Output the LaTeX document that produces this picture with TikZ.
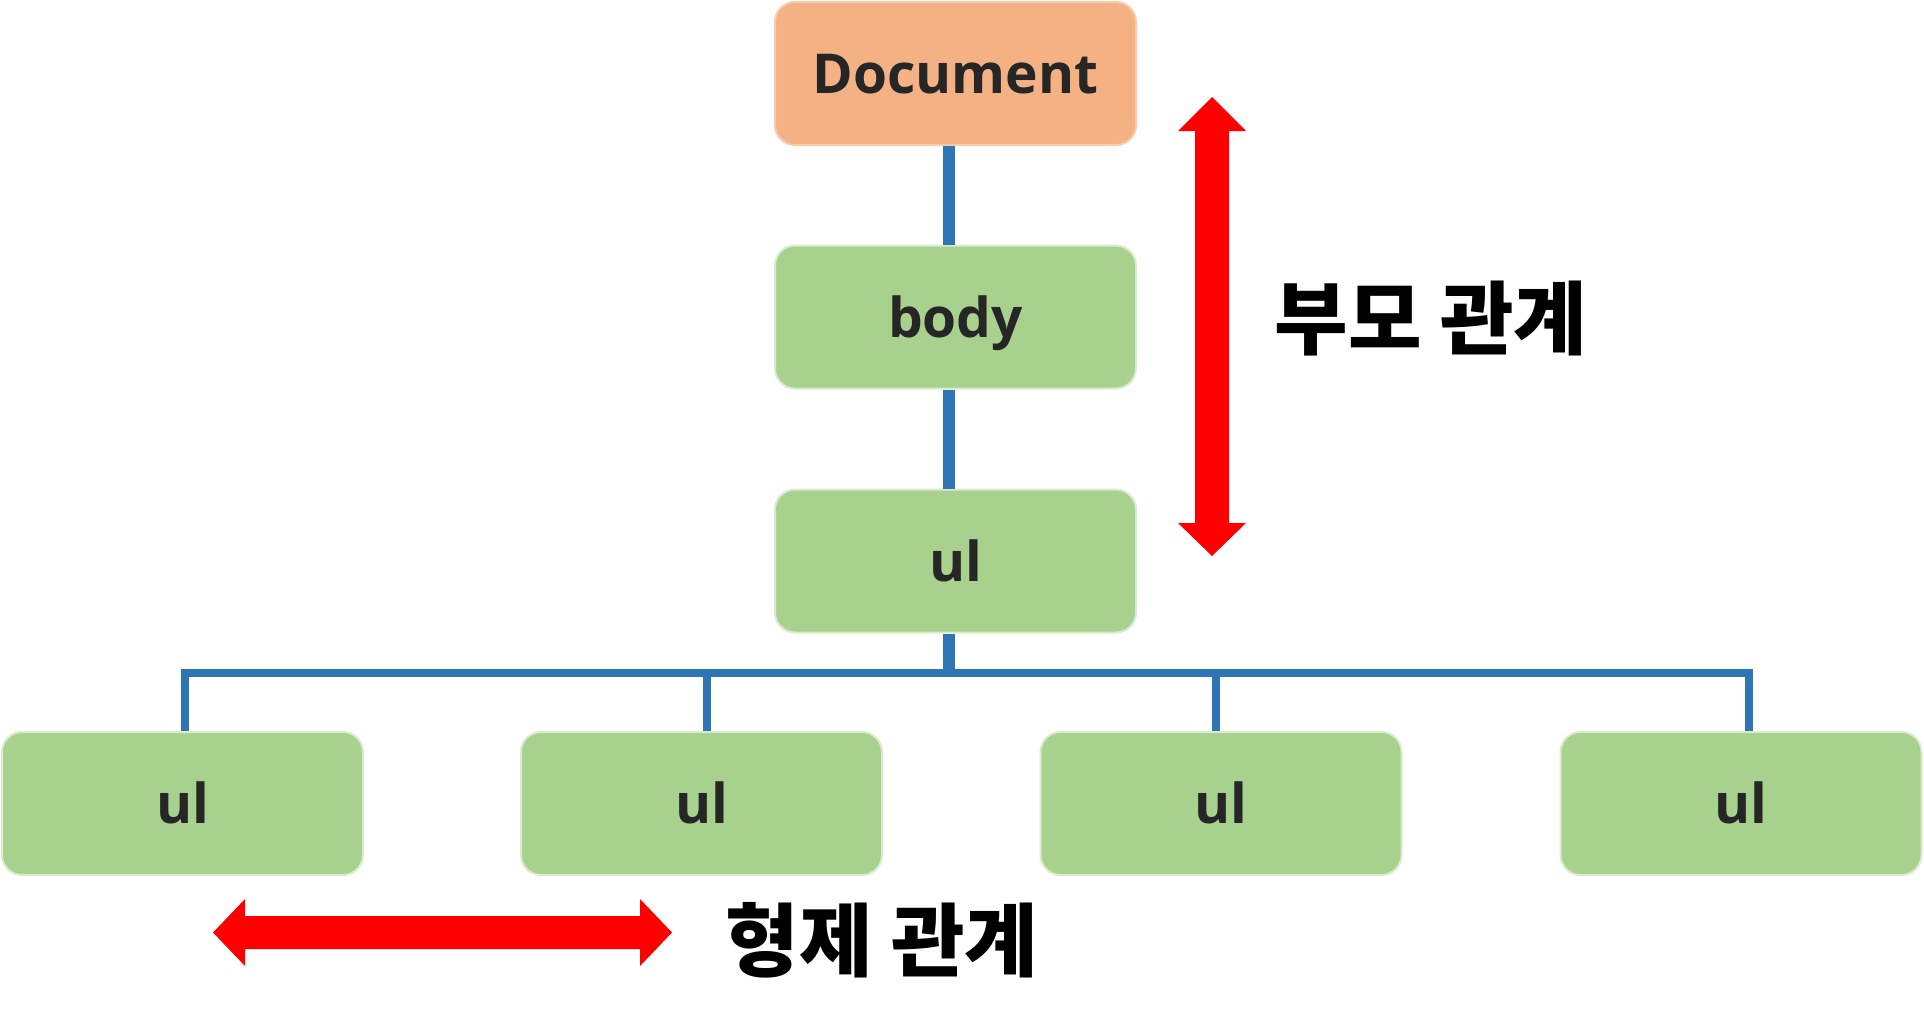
\documentclass[tikz,border=0pt]{standalone}
\usepackage{fontspec}
\setmainfont{Open Sans}
\newfontfamily\krfont{Noto Sans CJK KR}
\definecolor{docfill}{HTML}{F4B183}
\definecolor{docline}{HTML}{F8CBAD}
\definecolor{elfill}{HTML}{A9D18E}
\definecolor{elline}{HTML}{D9EBCD}
\definecolor{treeblue}{HTML}{2E75B6}
\definecolor{boxtext}{HTML}{262626}
\begin{document}
\begin{tikzpicture}[x=1pt,y=-1pt,
  elbox/.style={rounded corners=20pt,fill=elfill,draw=elline,line width=2pt,minimum width=361pt,minimum height=143pt,
    text=boxtext,font=\fontsize{55}{60}\selectfont\bfseries,text height=40pt,text depth=0pt},
  link/.style={treeblue,line width=12pt},
  relation/.style={font=\krfont\fontsize{80}{82}\selectfont\bfseries,text height=66pt,text depth=5pt}]
\useasboundingbox (0,0) rectangle (1924,1031);
\node[elbox,fill=docfill,draw=docline] (doc) at (955.5,73.5) {Document};
\node[elbox] (body) at (955.5,317) {body};
\node[elbox] (ul) at (955.5,561) {ul};
\foreach \n/\x in {1/182.5,2/701.5,3/1221,4/1741}{\node[elbox] (ul\n) at (\x,803.5) {ul};}
\draw[link] ([xshift=-6.5pt]doc.south) -- ([xshift=-6.5pt]body.north);
\draw[link] ([xshift=-6.5pt]body.south) -- ([xshift=-6.5pt]ul.north);
\coordinate (bus) at (949,673);
\draw[link] ([xshift=-6.5pt]ul.south) -- (bus);
\draw[link,line width=8pt] ([xshift=-2pt]ul1.north |- bus) -- ([xshift=12pt]ul4.north |- bus);
\foreach \n/\d in {1/2.5,2/5.5,3/-5,4/8}{\draw[link,line width=8pt] ([xshift=\d pt]ul\n.north |- bus) -- ([xshift=\d pt]ul\n.north);}
% parent / sibling arrows
\fill[red] (1212,97) -- (1246,131) -- (1229,131) -- (1229,523) -- (1246,523) -- (1212,556) -- (1178,523) -- (1195,523) -- (1195,131) -- (1178,131) -- cycle;
\node[relation] (parent) at (1431,318) {부모 관계};
\fill[red] (213,932.5) -- (245,899) -- (245,916) -- (640,916) -- (640,899) -- (672,932.5) -- (640,966) -- (640,949) -- (245,949) -- (245,966) -- cycle;
\node[relation] (sibling) at (882,940) {형제 관계};
\end{tikzpicture}
\end{document}
